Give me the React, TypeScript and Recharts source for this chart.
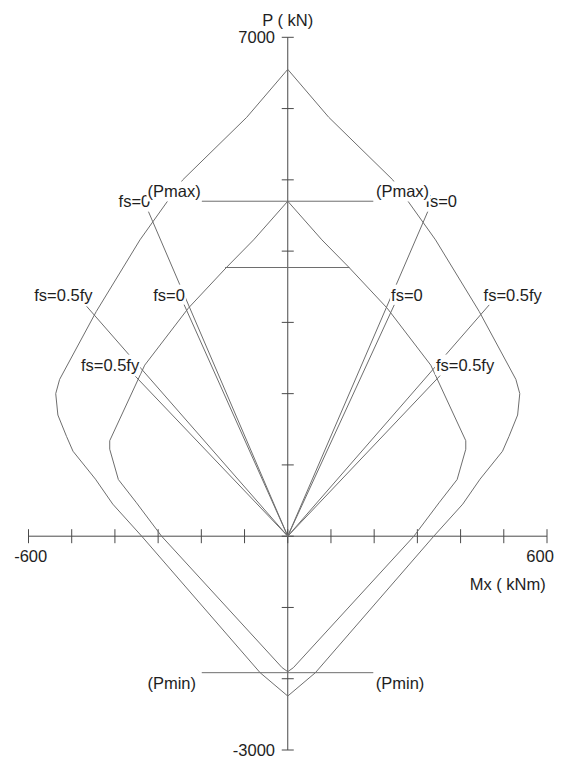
import React from 'react';
import { ScatterChart, Scatter, XAxis, YAxis, ReferenceDot } from 'recharts';

// ---- data (M in kNm, P in kN) ----
const outerM = [0, 95, 243, 342, 443, 528, 537, 532, 512, 497, 445, 405, 338, 64, 0, -64, -338, -405, -445, -497, -512, -532, -537, -528, -443, -342, -243, -95, 0];
const outerP = [6550, 5877, 5000, 4158, 3154, 2200, 2000, 1700, 1400, 1192, 800, 450, 0, -1915, -2243, -1915, 0, 450, 800, 1192, 1400, 1700, 2000, 2200, 3154, 4158, 5000, 5877, 6550];

const innerM = [0, 79, 142, 230, 331, 412, 412, 392, 350, 292, 13, 0, -13, -292, -350, -392, -412, -412, -331, -230, -142, -79, 0];
const innerP = [4700, 4158, 3770, 3200, 2400, 1340, 1220, 795, 468, 0, -1845, -1901, -1845, 0, 468, 795, 1220, 1340, 2400, 3200, 3770, 4158, 4700];

const pmaxM = [-199, 198];
const pmaxP = 4700;
const capM = [-145, 143];
const capP = 3770;
const pminM = [-199, 198];
const pminP = -1915;

// ray end points (fs=0 and fs=0.5fy lines from origin)
const rayM = [-322.6, -241.6, -465.4, -352.5, 324.2, 246.7, 466.6, 352.6];
const rayP = [4557, 3272, 3225, 2243, 4557, 3248, 3248, 2253];

const xTickValues = [-600, -500, -400, -300, -200, -100, 0, 100, 200, 300, 400, 500, 600];
const yTickValues = [-3000, -2000, -1000, 0, 1000, 2000, 3000, 4000, 5000, 6000, 7000];

const annotations = [
  { x: -354.8, y: 4697, t: 'fs=0' },
  { x: 355.2, y: 4697, t: 'fs=0' },
  { x: -263, y: 4837, t: '(Pmax)' },
  { x: 265.7, y: 4837, t: '(Pmax)' },
  { x: -519.3, y: 3389, t: 'fs=0.5fy' },
  { x: -274.7, y: 3389, t: 'fs=0' },
  { x: -411.2, y: 2407, t: 'fs=0.5fy' },
  { x: 275.8, y: 3389, t: 'fs=0' },
  { x: 520.7, y: 3389, t: 'fs=0.5fy' },
  { x: 410.3, y: 2407, t: 'fs=0.5fy' },
  { x: -268.5, y: -2055, t: '(Pmin)' },
  { x: 260, y: -2055, t: '(Pmin)' },
  { x: -29.4, y: 7000, t: '7000', a: 'end' },
  { x: -29.4, y: -3000, t: '-3000', a: 'end' },
  { x: -595, y: -280, t: '-600' },
  { x: 584, y: -280, t: '600' },
  { x: 509, y: -677, t: 'Mx ( kNm)' },
];
const yAxisTitle = { x: 0, y: 7244, t: 'P ( kN)' };

// ---- helpers ----
const zip = (ms: number[], ps: number[]) => ms.map((m, i) => ({ x: m, y: ps[i] }));
const outerData = zip(outerM, outerP);
const innerData = zip(innerM, innerP);
const rays = rayM.map((m, i) => [{ x: 0, y: 0 }, { x: m, y: rayP[i] }]);

const FONT = '"Liberation Sans", Arial, sans-serif';
const FS = 16.5;
const TEXT_COLOR = '#1e1e1e';
const LINE = '#6e6e6e';
const AXIS = '#4a4a4a';

const CW: Record<string, number> = {
  f: 0.278, s: 0.5, '=': 0.584, '.': 0.278, y: 0.5, '(': 0.333, ')': 0.333, P: 0.667, m: 0.833,
  a: 0.556, x: 0.5, i: 0.222, n: 0.556, M: 0.833, ' ': 0.278, k: 0.5, N: 0.722, '-': 0.333,
};
const textW = (t: string) => t.split('').reduce((s, c) => s + (CW[c] ?? 0.556), 0) * FS;

const NoDot = () => <g />;

const XTick = (p: any) => <line x1={p.cx} x2={p.cx} y1={p.cy - 7} y2={p.cy + 7} stroke={AXIS} strokeWidth={1} />;
const YTick = (p: any) => <line x1={p.cx - 6} x2={p.cx + 6} y1={p.cy} y2={p.cy} stroke={AXIS} strokeWidth={1} />;

const LabelShape = (p: any) => {
  const { cx, cy, payload } = p;
  const anchor = payload.a || 'middle';
  const w = textW(payload.t);
  const x0 = anchor === 'middle' ? cx - w / 2 : anchor === 'end' ? cx - w : cx;
  return (
    <g>
      <rect x={x0 - 1} y={cy - 10} width={w + 2} height={20} fill="#ffffff" />
      <text x={cx} y={cy} textAnchor={anchor} dominantBaseline="central" fontFamily={FONT} fontSize={FS} fill={TEXT_COLOR}>
        {payload.t}
      </text>
    </g>
  );
};

export default function App() {
  return (
    <div style={{ position: 'absolute', left: 0, top: 0, background: '#fff' }}>
      <ScatterChart width={566} height={763} margin={{ top: 37.3, right: 19, bottom: 13, left: 28.5 }}>
        <XAxis type="number" dataKey="x" domain={[-600, 600]} hide />
        <YAxis type="number" dataKey="y" domain={[-3000, 7000]} hide />

        {/* axes */}
        <Scatter data={[{ x: -600, y: 0 }, { x: 600, y: 0 }]} line={{ stroke: AXIS, strokeWidth: 1 }} shape={NoDot} isAnimationActive={false} />
        <Scatter data={[{ x: 0, y: -3000 }, { x: 0, y: 7000 }]} line={{ stroke: AXIS, strokeWidth: 1 }} shape={NoDot} isAnimationActive={false} />
        <Scatter data={xTickValues.map((v) => ({ x: v, y: 0 }))} shape={XTick} isAnimationActive={false} />
        <Scatter data={yTickValues.map((v) => ({ x: 0, y: v }))} shape={YTick} isAnimationActive={false} />

        {/* interaction curves */}
        <Scatter data={outerData} line={{ stroke: LINE, strokeWidth: 1 }} shape={NoDot} isAnimationActive={false} />
        <Scatter data={innerData} line={{ stroke: LINE, strokeWidth: 1 }} shape={NoDot} isAnimationActive={false} />

        {/* caps */}
        <Scatter data={pmaxM.map((m) => ({ x: m, y: pmaxP }))} line={{ stroke: LINE, strokeWidth: 1 }} shape={NoDot} isAnimationActive={false} />
        <Scatter data={capM.map((m) => ({ x: m, y: capP }))} line={{ stroke: LINE, strokeWidth: 1 }} shape={NoDot} isAnimationActive={false} />
        <Scatter data={pminM.map((m) => ({ x: m, y: pminP }))} line={{ stroke: LINE, strokeWidth: 1 }} shape={NoDot} isAnimationActive={false} />

        {/* rays */}
        {rays.map((r, i) => (
          <Scatter key={'ray' + i} data={r} line={{ stroke: LINE, strokeWidth: 1 }} shape={NoDot} isAnimationActive={false} />
        ))}

        {/* labels */}
        <Scatter data={annotations} shape={LabelShape} isAnimationActive={false} />
        <ReferenceDot
          x={yAxisTitle.x}
          y={yAxisTitle.y}
          ifOverflow="visible"
          shape={(p: any) => (
            <text x={p.cx} y={p.cy} textAnchor="middle" dominantBaseline="central" fontFamily={FONT} fontSize={FS} fill={TEXT_COLOR}>
              {yAxisTitle.t}
            </text>
          )}
        />
      </ScatterChart>
    </div>
  );
}
